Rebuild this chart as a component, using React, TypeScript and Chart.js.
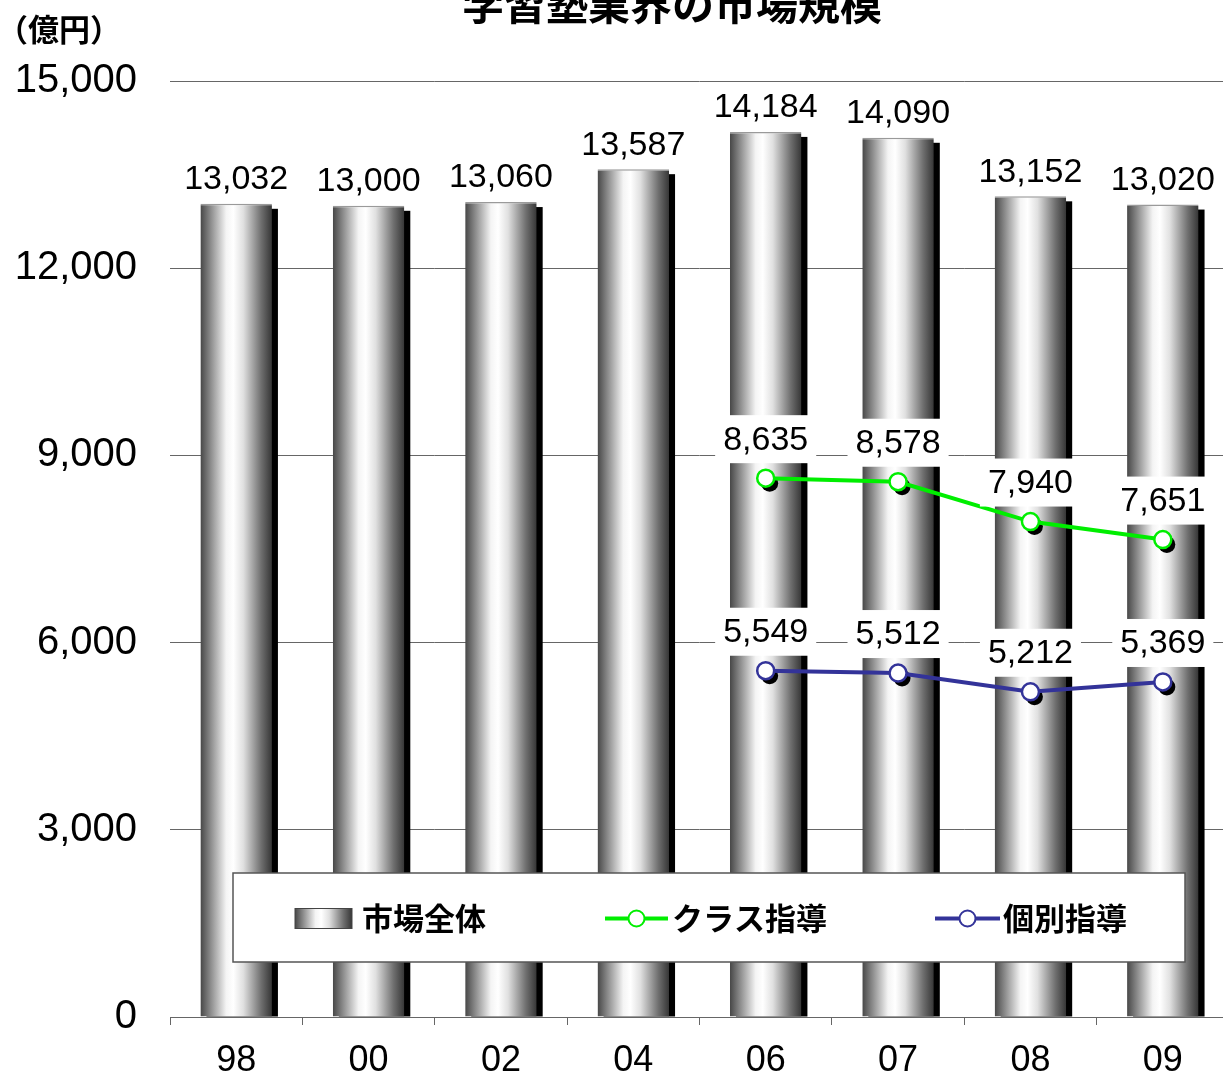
import React, { useEffect, useRef } from "react";
import { Chart, registerables } from "chart.js";

Chart.register(...registerables);

const categories = ["98", "00", "02", "04", "06", "07", "08", "09"];
const totalMarket = [13032, 13000, 13060, 13587, 14184, 14090, 13152, 13020];
const classTeaching = [null, null, null, null, 8635, 8578, 7940, 7651];
const individualTeaching = [null, null, null, null, 5549, 5512, 5212, 5369];
const seriesNames = ["市場全体", "クラス指導", "個別指導"];
const titleText = "学習塾業界の市場規模";
const unitText = "（億円）";
const yMin = 0;
const yMax = 15000;
const yStep = 3000;

const GREEN = "#00ee00";
const NAVY = "#333399";
const NUM_FONT = '"Liberation Sans", Arial, sans-serif';
const JP_FONT = '"Noto Sans CJK JP", sans-serif';

function barGradient(ctx: CanvasRenderingContext2D, x0: number, x1: number) {
  const g = ctx.createLinearGradient(x0, 0, x1, 0);
  g.addColorStop(0, "#474747");
  g.addColorStop(0.15, "#8f8f8f");
  g.addColorStop(0.36, "#f4f4f4");
  g.addColorStop(0.46, "#ffffff");
  g.addColorStop(0.6, "#e0e0e0");
  g.addColorStop(0.85, "#6f6f6f");
  g.addColorStop(1, "#363636");
  return g;
}

const shadowPlugin = {
  id: "shadows",
  beforeDatasetDraw(chart: any, args: any) {
    const ctx = chart.ctx;
    const ds = chart.data.datasets[args.index];
    const meta = chart.getDatasetMeta(args.index);
    ctx.save();
    ctx.fillStyle = "#000";
    if (ds.type === "bar") {
      meta.data.forEach((el: any) => {
        const w = el.width;
        ctx.fillRect(el.x - w / 2 + 6, el.y + 5, w, el.base - el.y - 5);
      });
    } else {
      meta.data.forEach((el: any, i: number) => {
        if (ds.data[i] == null) return;
        ctx.beginPath();
        ctx.arc(el.x + 4, el.y + 5, 8.5, 0, Math.PI * 2);
        ctx.fill();
      });
    }
    ctx.restore();
  },
};

const labelPlugin = {
  id: "valueLabels",
  afterDatasetsDraw(chart: any) {
    const ctx = chart.ctx;
    ctx.save();
    ctx.font = `34px ${NUM_FONT}`;
    ctx.textAlign = "center";
    ctx.textBaseline = "middle";
    chart.data.datasets.forEach((ds: any, di: number) => {
      const meta = chart.getDatasetMeta(di);
      meta.data.forEach((el: any, i: number) => {
        const v = ds.data[i];
        if (v == null) return;
        const text = Number(v).toLocaleString("en-US");
        const cy = ds.type === "bar" ? el.y - 25 : el.y - 39;
        const w = ctx.measureText(text).width + 16;
        ctx.fillStyle = "#fff";
        ctx.fillRect(el.x - w / 2, cy - 24, w, 48);
        ctx.fillStyle = "#000";
        ctx.fillText(text, el.x, cy + 1);
      });
    });
    ctx.restore();
  },
};

const decorPlugin = {
  id: "decor",
  afterDraw(chart: any) {
    const ctx = chart.ctx;
    const ca = chart.chartArea;
    ctx.save();
    // title
    ctx.fillStyle = "#000";
    ctx.font = `bold 42px ${JP_FONT}`;
    ctx.textAlign = "center";
    ctx.textBaseline = "alphabetic";
    ctx.fillText(titleText, 672, 20);
    // unit
    ctx.font = `bold 31px ${JP_FONT}`;
    ctx.textAlign = "left";
    ctx.textBaseline = "middle";
    ctx.fillText(unitText, -3, 29);

    // legend
    const L = ca.left + 63;
    const R = ca.left + 1015;
    const T = ca.bottom - 144;
    const B = ca.bottom - 55;
    ctx.fillStyle = "#fff";
    ctx.fillRect(L, T, R - L, B - T);
    ctx.strokeStyle = "#555";
    ctx.lineWidth = 1.5;
    ctx.strokeRect(L, T, R - L, B - T);
    const cy = (T + B) / 2 + 1;
    ctx.font = `bold 31px ${JP_FONT}`;
    ctx.textBaseline = "middle";
    // item 1
    const sx0 = ca.left + 125;
    const sx1 = ca.left + 182;
    ctx.fillStyle = barGradient(ctx, sx0, sx1);
    ctx.fillRect(sx0, cy - 10, sx1 - sx0, 20);
    ctx.strokeStyle = "#444";
    ctx.lineWidth = 1;
    ctx.strokeRect(sx0, cy - 10, sx1 - sx0, 20);
    ctx.fillStyle = "#000";
    ctx.fillText(seriesNames[0], ca.left + 192, cy);
    // line items
    const items = [
      { x0: ca.left + 435, x1: ca.left + 498, color: GREEN, tx: ca.left + 502, name: seriesNames[1] },
      { x0: ca.left + 765, x1: ca.left + 830, color: NAVY, tx: ca.left + 833, name: seriesNames[2] },
    ];
    items.forEach((it) => {
      ctx.strokeStyle = it.color;
      ctx.lineWidth = 4;
      ctx.beginPath();
      ctx.moveTo(it.x0, cy);
      ctx.lineTo(it.x1, cy);
      ctx.stroke();
      ctx.beginPath();
      ctx.arc((it.x0 + it.x1) / 2, cy, 8, 0, Math.PI * 2);
      ctx.fillStyle = "#fff";
      ctx.fill();
      ctx.lineWidth = 2;
      ctx.stroke();
      ctx.fillStyle = "#000";
      ctx.fillText(it.name, it.tx, cy);
    });
    ctx.restore();
  },
};

export default function App() {
  const ref = useRef<HTMLCanvasElement>(null);
  useEffect(() => {
    if (!ref.current) return;
    const chart = new Chart(ref.current, {
      type: "bar",
      data: {
        labels: categories,
        datasets: [
          {
            type: "bar",
            label: seriesNames[0],
            data: totalMarket,
            order: 3,
            barPercentage: 0.54,
            categoryPercentage: 1,
            backgroundColor: (c: any) => {
              const chart = c.chart;
              if (!chart.chartArea || c.type !== "data") return "#999";
              const xs = chart.scales.x;
              const cx = xs.getPixelForValue(c.dataIndex);
              const w = (chart.chartArea.width / categories.length) * 0.54;
              return barGradient(chart.ctx, cx - w / 2, cx + w / 2);
            },
            borderColor: "#9a9a9a",
            borderWidth: { top: 1.5, left: 0, right: 0, bottom: 0 },
            borderSkipped: "bottom",
          } as any,
          {
            type: "line",
            label: seriesNames[1],
            data: classTeaching,
            order: 1,
            borderColor: GREEN,
            borderWidth: 4,
            pointRadius: 8.5,
            pointBorderWidth: 2.5,
            pointBackgroundColor: "#fff",
            pointBorderColor: GREEN,
            spanGaps: false,
          } as any,
          {
            type: "line",
            label: seriesNames[2],
            data: individualTeaching,
            order: 2,
            borderColor: NAVY,
            borderWidth: 4,
            pointRadius: 8.5,
            pointBorderWidth: 2.5,
            pointBackgroundColor: "#fff",
            pointBorderColor: NAVY,
            spanGaps: false,
          } as any,
        ],
      },
      options: {
        responsive: false,
        animation: false,
        devicePixelRatio: 1,
        layout: { padding: { top: 81, right: 6, left: 0, bottom: 0 } },
        plugins: {
          legend: { display: false },
          title: { display: false },
          tooltip: { enabled: false },
        },
        scales: {
          x: {
            offset: true,
            grid: {
              offset: true,
              drawOnChartArea: false,
              tickLength: 8,
              color: "#666",
            },
            border: { display: true, color: "#666", width: 1 },
            ticks: {
              color: "#000",
              font: { family: NUM_FONT, size: 36 },
              padding: 14,
            },
            afterFit: (s: any) => {
              s.height = 57;
            },
          },
          y: {
            min: yMin,
            max: yMax,
            grid: { color: "#666", lineWidth: 1, drawTicks: false },
            border: { display: false },
            ticks: {
              stepSize: yStep,
              color: "#000",
              font: { family: NUM_FONT, size: 40 },
              padding: 33,
              callback: (v: any) => Number(v).toLocaleString("en-US"),
            },
            afterFit: (s: any) => {
              s.width = 170;
            },
          },
        },
      },
      plugins: [shadowPlugin, labelPlugin, decorPlugin],
    });
    return () => chart.destroy();
  }, []);
  return (
    <div
      style={{
        position: "fixed",
        left: 0,
        top: 0,
        width: 1223,
        height: 1074,
        overflow: "hidden",
        background: "#fff",
      }}
    >
      <canvas ref={ref} width={1240} height={1074} style={{ width: 1240, height: 1074, display: "block" }} />
    </div>
  );
}
